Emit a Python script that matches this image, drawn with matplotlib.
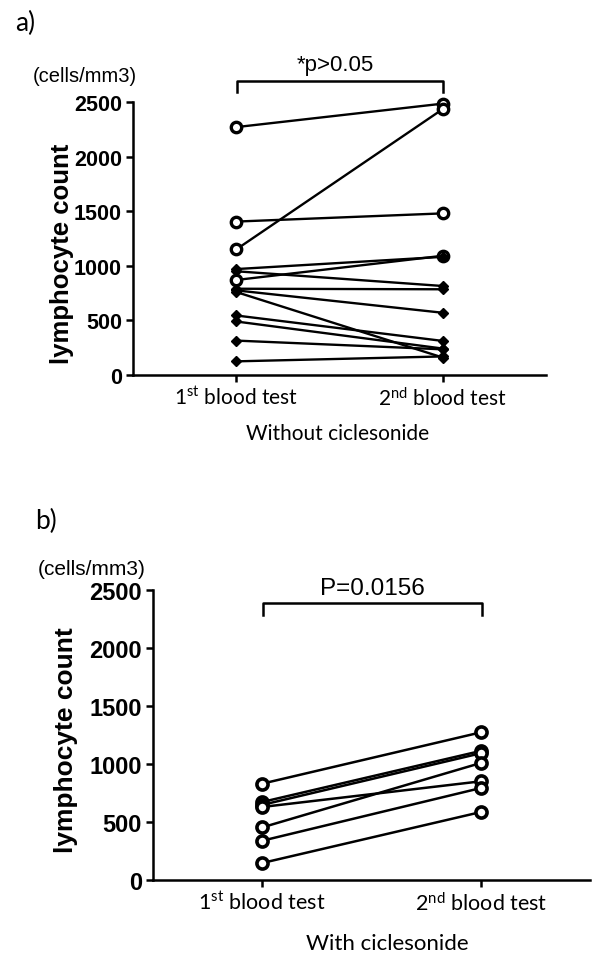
import matplotlib
matplotlib.use("Agg")
import matplotlib.pyplot as plt

plt.rcParams['mathtext.fontset'] = 'custom'
plt.rcParams['mathtext.rm'] = 'Lato'
plt.rcParams['mathtext.it'] = 'Lato:italic'
plt.rcParams['mathtext.bf'] = 'Lato:bold'

W, H = 592, 954
fig = plt.figure(figsize=(W / 100, H / 100), dpi=100)

categories = ["1$\\mathrm{^{st}}$ blood test", "2$\\mathrm{^{nd}}$ blood test"]
yticks = [0, 500, 1000, 1500, 2000, 2500]

# Panel a: without ciclesonide (first, second) pairs
a_circle_first = [2270, 1150, 1405, 870]
a_circle_second = [2485, 2435, 1480, 1092]
a_diamond_first = [970, 950, 790, 775, 760, 545, 490, 315, 125]
a_diamond_second = [1082, 815, 785, 570, 160, 312, 242, 235, 170]

# Panel b: with ciclesonide
b_first = [828, 670, 645, 627, 451, 336, 144]
b_second = [1270, 1110, 1090, 848, 1006, 790, 583]

ARIAL = "Liberation Sans"
CAL = "Lato"


def px(x, y):
    return x / W, 1 - y / H


def setup(ax, tick_fs, cat_fs):
    ax.set_xlim(-0.5, 1.5)
    ax.set_ylim(0, 2500)
    for s in ["top", "right"]:
        ax.spines[s].set_visible(False)
    for s in ["left", "bottom"]:
        ax.spines[s].set_linewidth(1.8)
    ax.set_yticks(yticks)
    ax.set_yticklabels([str(v) for v in yticks], fontfamily=ARIAL,
                       fontweight="bold", fontsize=tick_fs)
    ax.set_xticks([0, 1])
    ax.set_xticklabels(categories, fontfamily=CAL, fontsize=cat_fs)
    ax.tick_params(axis="both", width=1.8, length=5, pad=3)


# ---------- panel a ----------
axa = fig.add_axes([133 / W, 1 - 376 / H, (546 - 133) / W, (376 - 103) / H])
setup(axa, 15.5, 15)
for f, s in zip(a_circle_first, a_circle_second):
    axa.plot([0, 1], [f, s], color="black", lw=1.7, marker="o", ms=7.5,
             mfc="white", mec="black", mew=2.4, clip_on=False, zorder=3)
for f, s in zip(a_diamond_first, a_diamond_second):
    axa.plot([0, 1], [f, s], color="black", lw=1.7, marker="D", ms=5.5,
             mfc="black", mec="black", clip_on=False, zorder=3)

# bracket a
xb0, yb0 = 237, 82
xb1, yb2 = 443, 93
fig.add_artist(plt.Line2D([xb0 / W, xb0 / W, xb1 / W, xb1 / W],
                          [1 - yb2 / H, 1 - yb0 / H, 1 - yb0 / H, 1 - yb2 / H],
                          color="black", lw=1.8))
fig.text(*px(335, 66), "*p>0.05", fontfamily=ARIAL, fontsize=16,
         ha="center", va="center")
fig.text(*px(25, 23), "a)", fontfamily=CAL, fontsize=19, ha="center", va="center")
fig.text(*px(85, 76), "(cells/mm3)", fontfamily=ARIAL, fontsize=14.5,
         ha="center", va="center")
fig.text(*px(62, 254), "lymphocyte count", fontfamily=ARIAL, fontweight="bold",
         fontsize=18.5, rotation=90, ha="center", va="center")
fig.text(*px(338, 434), "Without ciclesonide", fontfamily=CAL, fontsize=15,
         ha="center", va="center")

# ---------- panel b ----------
axb = fig.add_axes([153 / W, 1 - 880.7 / H, (590 - 153) / W, (880.7 - 590.7) / H])
setup(axb, 17, 15.5)
for f, s in zip(b_first, b_second):
    axb.plot([0, 1], [f, s], color="black", lw=1.8, marker="o", ms=8,
             mfc="white", mec="black", mew=2.6, clip_on=False, zorder=3)

xb0, yb0 = 263, 604
xb1, yb2 = 482, 616
fig.add_artist(plt.Line2D([xb0 / W, xb0 / W, xb1 / W, xb1 / W],
                          [1 - yb2 / H, 1 - yb0 / H, 1 - yb0 / H, 1 - yb2 / H],
                          color="black", lw=1.8))
fig.text(*px(372, 589), "P=0.0156", fontfamily=ARIAL, fontsize=17.5,
         ha="center", va="center")
fig.text(*px(46, 521), "b)", fontfamily=CAL, fontsize=19, ha="center", va="center")
fig.text(*px(92, 570), "(cells/mm3)", fontfamily=ARIAL, fontsize=15,
         ha="center", va="center")
fig.text(*px(66, 740), "lymphocyte count", fontfamily=ARIAL, fontweight="bold",
         fontsize=19, rotation=90, ha="center", va="center")
fig.text(*px(387, 944), "With ciclesonide", fontfamily=CAL, fontsize=16,
         ha="center", va="center")

fig.savefig("out.png", dpi=100)
